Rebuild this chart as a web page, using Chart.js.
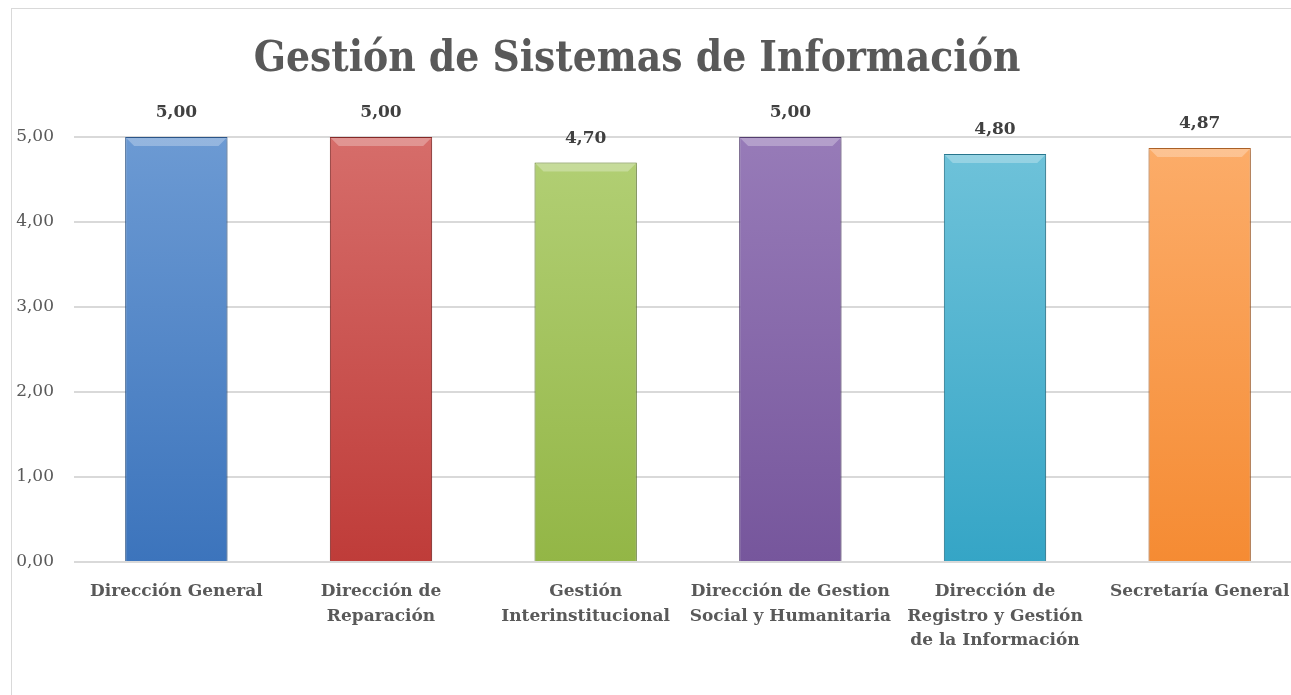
<!DOCTYPE html>
<html>
<head>
<meta charset="utf-8">
<script src="https://cdn.jsdelivr.net/npm/chart.js@4.4.1/dist/chart.umd.min.js"></script>
<style>
  html, body { margin: 0; padding: 0; overflow: hidden; background: #ffffff; }
  #frame {
    position: absolute; left: 11px; top: 8px; width: 1280px; height: 687px;
    border-left: 1px solid #d9d9d9; border-top: 1px solid #d9d9d9;
  }
  #wrap { position: absolute; left: 0; top: 0; width: 1310px; height: 695px; }
</style>
</head>
<body>
<div id="frame"></div>
<div id="wrap"><canvas id="chart"></canvas></div>
<script>
// chart data
const chartTitle = 'Gestión de Sistemas de Información';
const categories = [
    'Dirección General',
    ['Dirección de', 'Reparación'],
    ['Gestión', 'Interinstitucional'],
    ['Dirección de Gestion', 'Social y Humanitaria'],
    ['Dirección de', 'Registro y Gestión', 'de la Información'],
    'Secretaría General'
];
const scores = [5.00, 5.00, 4.70, 5.00, 4.80, 4.87];
const yTicks = [0, 1, 2, 3, 4, 5];

// top / bottom colours of each bar gradient
const topColors = ['#6c9ad3', '#d66d6a', '#b3d076', '#977bb8', '#70c3da', '#fcad6a'];
const bottomColors = ['#3c74bc', '#bf3c39', '#93b646', '#76569c', '#35a5c6', '#f58b33'];
const edgeColors = ['#2f5b93', '#8f2c2a', '#6f8a35', '#5a4278', '#2a7f98', '#b8682a'];

const fmt = (v) => v.toFixed(2).replace('.', ',');
const serif = "'DejaVu Serif', 'Liberation Serif', serif";
const titleFont = "'DejaVu Serif Condensed', 'Liberation Serif', serif";

// gradient per bar
const barGradient = (context) => {
    const chart = context.chart;
    const { ctx, chartArea } = chart;
    if (!chartArea) return topColors[context.dataIndex];
    const g = ctx.createLinearGradient(0, chartArea.top, 0, chartArea.bottom);
    g.addColorStop(0, topColors[context.dataIndex]);
    g.addColorStop(1, bottomColors[context.dataIndex]);
    return g;
};

// soft shadow behind bars + bevel on top
const shadowPlugin = {
    id: 'barShadow',
    beforeDatasetDraw(chart) {
        const ctx = chart.ctx;
        ctx.save();
        ctx.shadowColor = 'rgba(0,0,0,0.25)';
        ctx.shadowBlur = 6;
        ctx.shadowOffsetX = 1;
        ctx.shadowOffsetY = 1;
    },
    afterDatasetDraw(chart) {
        chart.ctx.restore();
        const ctx = chart.ctx;
        const meta = chart.getDatasetMeta(0);
        meta.data.forEach((bar) => {
            const left = bar.x - bar.width / 2;
            const right = bar.x + bar.width / 2;
            const top = bar.y;
            ctx.save();
            ctx.fillStyle = 'rgba(255,255,255,0.28)';
            ctx.beginPath();
            ctx.moveTo(left + 1, top + 1);
            ctx.lineTo(right - 1, top + 1);
            ctx.lineTo(right - 9, top + 9);
            ctx.lineTo(left + 9, top + 9);
            ctx.closePath();
            ctx.fill();
            ctx.restore();
        });
    }
};

// value labels above bars, and the title centred on the visible frame
const valueLabels = {
    id: 'valueLabels',
    afterDatasetsDraw(chart) {
        const ctx = chart.ctx;
        const meta = chart.getDatasetMeta(0);
        ctx.save();
        ctx.font = "bold 17px " + serif;
        ctx.fillStyle = '#404040';
        ctx.textAlign = 'center';
        ctx.textBaseline = 'middle';
        meta.data.forEach((bar, i) => {
            ctx.fillText(fmt(scores[i]), bar.x, bar.y - 24);
        });

        ctx.font = "bold 42px " + titleFont;
        ctx.fillStyle = '#595959';
        ctx.fillText(chartTitle, 637, 60);
        ctx.restore();
    }
};

const ctx = document.getElementById('chart').getContext('2d');
new Chart(ctx, {
    type: 'bar',
    data: {
        labels: categories,
        datasets: [{
            data: scores,
            backgroundColor: barGradient,
            borderColor: edgeColors,
            borderWidth: 1,
            barPercentage: 0.5,
            categoryPercentage: 1.0
        }]
    },
    options: {
        responsive: true,
        maintainAspectRatio: false,
        animation: false,
        layout: { padding: { left: 14, right: 8, top: 137, bottom: 0 } },
        plugins: {
            legend: { display: false },
            tooltip: { enabled: false },
            title: { display: false }
        },
        scales: {
            x: {
                grid: { display: false },
                border: { display: false },
                ticks: {
                    color: '#595959',
                    font: { family: serif, size: 17, weight: 'bold', lineHeight: 1.42 },
                    maxRotation: 0,
                    autoSkip: false,
                    padding: 10
                },
                afterFit: (scale) => { scale.height = 133; }
            },
            y: {
                min: 0,
                max: 5,
                afterBuildTicks: (scale) => {
                    scale.ticks = yTicks.map((v) => ({ value: v }));
                },
                grid: { color: '#d9d9d9', lineWidth: 2, drawTicks: false },
                border: { display: false },
                ticks: {
                    color: '#595959',
                    font: { family: serif, size: 17 },
                    padding: 20,
                    callback: (v) => fmt(v)
                },
                afterFit: (scale) => { scale.width = 60; }
            }
        }
    },
    plugins: [shadowPlugin, valueLabels]
});
</script>
</body>
</html>
